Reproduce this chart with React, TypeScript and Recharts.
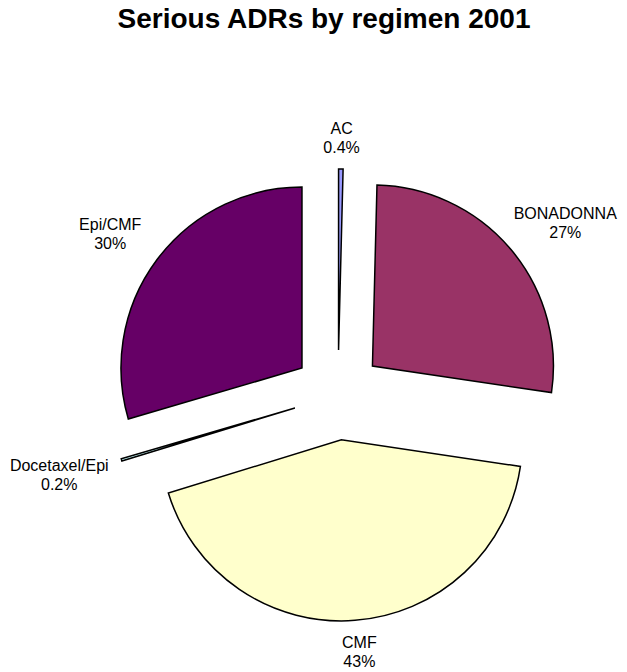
import { PieChart, Pie, Cell } from 'recharts';

const categories = ['AC', 'BONADONNA', 'CMF', 'Docetaxel/Epi', 'Epi/CMF'];
const counts = [2, 135, 215, 1, 148];
const COLORS = ['#9999FF', '#993366', '#FFFFCC', '#CCFFFF', '#660066'];

const W = 611;
const H = 664;
const CX = 330;
const CY = 387;
const R = 181;
const EXPLODE = 45;
const RAD = Math.PI / 180;
const FONT = "Arial, 'Liberation Sans', sans-serif";

const total = counts.reduce((a, b) => a + b, 0);
const data = categories.map((name, i) => ({ name, value: counts[i] }));

const fmtPct = (v: number) => {
  const p = (v / total) * 100;
  return (p < 1 ? p.toFixed(1) : p.toFixed(0)) + '%';
};

// mid angle of every slice (recharts convention, clockwise from 12 o'clock)
const midAngles = counts.map((v, i) => {
  const before = counts.slice(0, i).reduce((a, b) => a + b, 0);
  return 90 - (360 * (before + v / 2)) / total;
});

// rough text width for 16px Arial
const textWidth = (s: string) =>
  s.split('').reduce((w, ch) => {
    if ('il'.includes(ch)) return w + 3.5;
    if ('t/.'.includes(ch)) return w + 4.5;
    if (ch === '%') return w + 14;
    if (/[0-9]/.test(ch)) return w + 9;
    if (/[A-Z]/.test(ch)) return w + 11.5;
    return w + 8.5;
  }, 0);

const clamp = (v: number, lo: number, hi: number) => Math.max(lo, Math.min(hi, v));

function makeLabel(target: number) {
  return (props: any) => {
    if (props.index !== target) return null;
    const a = props.midAngle * RAD;
    const dx = Math.cos(a);
    const dy = -Math.sin(a);
    const name = categories[target];
    const pct = fmtPct(counts[target]);
    const hw = Math.max(textWidth(name), textWidth(pct)) / 2;
    const hh = 19;
    // nearest corner of the label box sits just outside the exploded slice
    const d = props.outerRadius + 12;
    const px = props.cx + dx * d;
    const py = props.cy + dy * d;
    let x = px + clamp(dx * 2, -1, 1) * (hw + 6);
    const y = py + clamp(dy * 2, -1, 1) * hh;
    x = clamp(x, hw + 2, W - hw - 2);
    return (
      <text x={x} y={y} textAnchor="middle" fontSize={16} fill="#000" fontFamily={FONT}>
        <tspan x={x} y={y - 3.8}>{name}</tspan>
        <tspan x={x} y={y + 15.2}>{pct}</tspan>
      </text>
    );
  };
}

export default function App() {
  return (
    <div style={{ position: 'relative', width: W, height: H, fontFamily: FONT }}>
      <div
        style={{
          position: 'absolute',
          left: 10,
          top: -5,
          width: 612,
          textAlign: 'center',
          fontWeight: 'bold',
          fontSize: 28,
          lineHeight: '32px',
          whiteSpace: 'nowrap',
        }}
      >
        Serious ADRs by regimen 2001
      </div>
      <PieChart width={W} height={H} margin={{ top: 0, right: 0, bottom: 0, left: 0 }}>
        {categories.map((_, k) => (
          <Pie
            key={k}
            data={data}
            dataKey="value"
            nameKey="name"
            cx={CX + EXPLODE * Math.cos(midAngles[k] * RAD)}
            cy={CY - EXPLODE * Math.sin(midAngles[k] * RAD)}
            outerRadius={R}
            startAngle={90}
            endAngle={-270}
            isAnimationActive={false}
            labelLine={false}
            label={makeLabel(k)}
          >
            {data.map((_, i) => (
              <Cell
                key={i}
                fill={i === k ? COLORS[i] : 'none'}
                stroke={i === k ? '#000' : 'none'}
                strokeWidth={1.5}
              />
            ))}
          </Pie>
        ))}
      </PieChart>
    </div>
  );
}
